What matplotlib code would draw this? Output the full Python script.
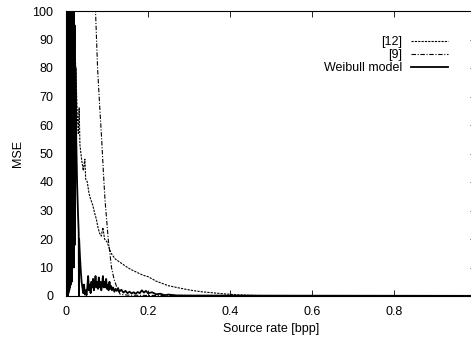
import matplotlib
matplotlib.use('Agg')
import matplotlib.pyplot as plt

plt.rcParams['font.family'] = ['Liberation Sans', 'DejaVu Sans']

# [12] -- dotted curve
rate_12 = [0.010, 0.016, 0.0195, 0.022, 0.024, 0.026, 0.028, 0.030, 0.032, 0.034,
           0.038, 0.042, 0.046, 0.048, 0.052, 0.056, 0.060, 0.065, 0.070, 0.074,
           0.078, 0.082, 0.086, 0.090, 0.094, 0.100, 0.105, 0.110, 0.115, 0.120,
           0.130, 0.140, 0.150, 0.160, 0.170, 0.180, 0.190, 0.200, 0.210, 0.220,
           0.235, 0.250, 0.270, 0.290, 0.310, 0.330, 0.360, 0.390, 0.420, 0.460,
           0.500, 1.0]
mse_12 = [160, 120, 100, 85, 80, 70, 62, 57, 66, 53,
          48, 44, 48, 41, 40, 36, 34, 32, 29, 27,
          24, 22, 21, 24, 20, 19, 17, 15, 14, 13,
          12, 11, 10, 9.2, 8.5, 7.8, 7.2, 6.8, 6.0, 5.2,
          4.4, 3.6, 3.0, 2.4, 1.9, 1.5, 1.1, 0.7, 0.4, 0.2,
          0.1, 0.05]

# [9] -- dash-dot curve
rate_9 = [0.068, 0.072, 0.077, 0.082, 0.087, 0.091, 0.095, 0.099, 0.103, 0.107,
          0.111, 0.117, 0.124, 0.132, 0.150, 0.200, 1.0]
mse_9 = [130, 100, 80, 67, 55, 44, 34, 27, 20, 15,
         10, 6, 3, 0.6, 0.3, 0.2, 0.1]

# Weibull model -- solid curve
rate_w = [0.0000, 0.0005, 0.0010, 0.0015, 0.0020, 0.0025, 0.0030, 0.0035, 0.0040, 0.0045,
          0.0050, 0.0055, 0.0060, 0.0065, 0.0070, 0.0075, 0.0080, 0.0085, 0.0090, 0.0095,
          0.0100, 0.0105, 0.0110, 0.0115, 0.0120, 0.0125, 0.0130, 0.0135, 0.0140, 0.0145,
          0.0150, 0.0155, 0.0160, 0.0165, 0.0170, 0.0175, 0.0180, 0.0185, 0.0190, 0.0195,
          0.020, 0.021, 0.022, 0.023, 0.025, 0.027, 0.029, 0.031, 0.0315, 0.032,
          0.034, 0.036, 0.038, 0.040, 0.042, 0.044, 0.046, 0.048, 0.050, 0.052,
          0.054, 0.056, 0.058, 0.060, 0.062, 0.064, 0.066, 0.068, 0.070, 0.072,
          0.074, 0.076, 0.078, 0.080, 0.082, 0.084, 0.086, 0.088, 0.090, 0.092,
          0.094, 0.096, 0.098, 0.100, 0.102, 0.104, 0.106, 0.108, 0.110, 0.112,
          0.115, 0.118, 0.121, 0.124, 0.127, 0.130, 0.135, 0.140, 0.145, 0.150,
          0.155, 0.160, 0.165, 0.170, 0.175, 0.180, 0.185, 0.190, 0.195, 0.200,
          0.210, 0.220, 0.230, 0.240, 0.250, 0.270, 0.300, 1.0]
mse_w = [0, 150, 0, 150, 1, 150, 2, 150, 0, 150,
         3, 150, 1, 150, 4, 150, 2, 150, 5, 150,
         3, 150, 6, 150, 4, 150, 8, 150, 5, 150,
         10, 150, 12, 140, 20, 130, 30, 120, 10, 110,
         60, 95, 18, 80, 55, 40, 30, 22, 0, 20,
         14, 9, 5, 3, 1, 4, 0.5, 2, 0.3, 3,
         7, 2, 4, 1, 5, 3, 6, 2, 4, 7,
         3, 5, 2.5, 6.5, 3, 5, 2, 4, 7, 3,
         5, 3, 6, 2.5, 4, 2, 5, 2.5, 3.5, 2,
         3, 1.5, 2.5, 1.8, 2.8, 1.5, 2.2, 1.2, 1.8, 1.0,
         1.5, 0.9, 1.3, 0.8, 1.4, 1.0, 2.0, 1.2, 1.8, 1.0,
         1.3, 0.6, 0.8, 0.3, 0.5, 0.2, 0.15, 0.05]

fig = plt.figure(figsize=(4.71, 3.39), dpi=100)
ax = fig.add_axes([66 / 471, 43 / 339, 410 / 471, 285 / 339])

ax.plot(rate_12, mse_12, color='black', lw=0.8, dashes=(2, 1), label='[12]')
ax.plot(rate_9, mse_9, color='black', lw=0.8, dashes=(4, 1.5, 1, 1.5), label='[9]')
ax.plot(rate_w, mse_w, color='black', lw=1.3, label='Weibull model')

ax.set_xlim(0, 1)
ax.set_ylim(0, 100)
ax.set_xticks([0, 0.2, 0.4, 0.6, 0.8, 1])
ax.set_xticklabels(['0', '0.2', '0.4', '0.6', '0.8', '1'])
ax.set_yticks(range(0, 101, 10))
ax.tick_params(direction='in', length=4, width=0.6, top=True, right=True,
               labelsize=9)
ax.tick_params(axis='y', pad=9)
ax.tick_params(axis='x', pad=7)
for s in ax.spines.values():
    s.set_linewidth(0.8)

ax.set_xlabel('Source rate [bpp]', fontsize=9, labelpad=4)
ax.set_ylabel('MSE', fontsize=9, labelpad=6)

ax.legend(loc='upper right', bbox_to_anchor=(0.932, 0.912), frameon=False,
          markerfirst=False, fontsize=9, handlelength=3.0, handletextpad=0.7,
          labelspacing=0.08, borderpad=0, borderaxespad=0)

plt.savefig('out.png', dpi=100)
